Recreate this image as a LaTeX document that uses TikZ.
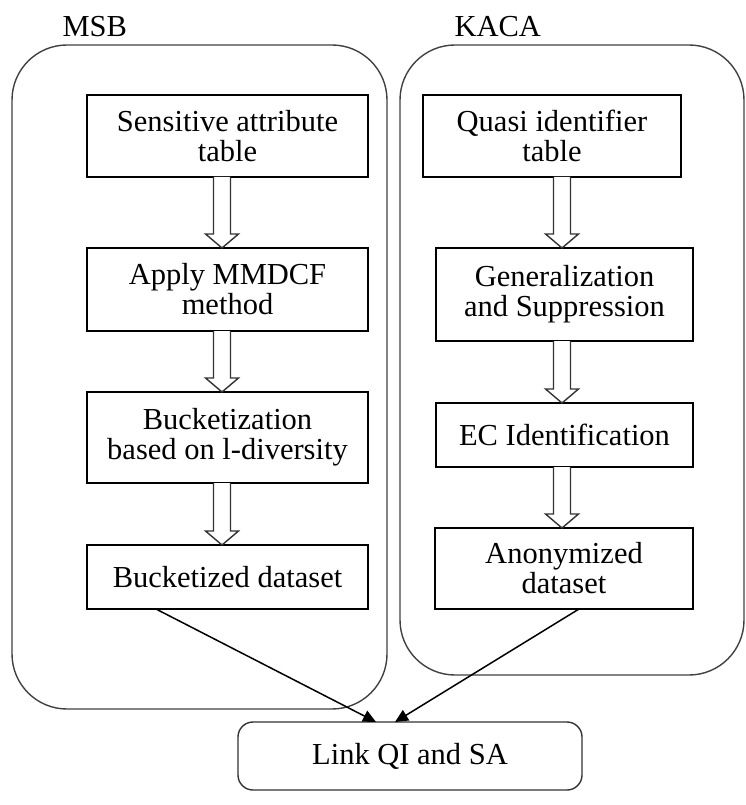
\documentclass[tikz,border=0pt]{standalone}
\usepackage{fontspec}
\setmainfont{Liberation Serif}
\usetikzlibrary{arrows.meta,positioning,calc}

% hollow block arrow: from node, to node, x position
\newcommand{\hollowarr}[3]{%
  \draw[harr] ($(#3,0 |- #1.south)+(-8.5,0)$) -- ($(#3,0 |- #2.north)+(-8.5,-14)$)
    -- ($(#3,0 |- #2.north)+(-16.5,-14)$) -- (#3,0 |- #2.north)
    -- ($(#3,0 |- #2.north)+(16.5,-14)$) -- ($(#3,0 |- #2.north)+(8.5,-14)$)
    -- ($(#3,0 |- #1.south)+(8.5,0)$);}

\begin{document}
\begin{tikzpicture}[x=1pt, y=-1pt,
    every node/.style={font=\fontsize{30.5}{30}\selectfont},
    box/.style={rectangle, draw=black, line width=1.6pt, align=center, outer sep=0pt, inner sep=2pt},
    group/.style={rectangle, rounded corners=55pt, draw=black!75, line width=1.4pt, outer sep=0pt},
    harr/.style={draw=black!80, line width=1.4pt, fill=white, line join=miter},
    arr/.style={-{Triangle[length=13pt, width=12pt]}, line width=1.5pt, black}
  ]
    \useasboundingbox (0,0) rectangle (745,805);

    % containers
    \node[group, minimum width=375pt, minimum height=664pt] (msb)  at (199.5,377) {};
    \node[group, minimum width=344pt, minimum height=630pt] (kaca) at (572,360) {};
    \node[anchor=base west] (msblbl)  at (59,37)  {MSB};
    \node[anchor=base west] (kacalbl) at (451,37) {KACA};

    % MSB side
    \node[box, minimum width=281pt, minimum height=82pt] (sat)   at (227.5,136)   {Sensitive attribute\\table};
    \node[box, minimum width=281pt, minimum height=83pt] (mmdcf) at (227.5,289.5) {Apply MMDCF\\method};
    \node[box, minimum width=281pt, minimum height=91pt] (buck)  at (227.5,437.5) {Bucketization\\based on l-diversity};
    \node[box, minimum width=281pt, minimum height=64pt] (bds)   at (227.5,577)   {Bucketized dataset};

    % KACA side
    \node[box, minimum width=258pt, minimum height=82pt] (qit)  at (552,136)   {Quasi identifier\\table};
    \node[box, minimum width=257pt, minimum height=93pt] (gen)  at (564.5,294.5) {Generalization\\and Suppression};
    \node[box, minimum width=257pt, minimum height=64pt] (eci)  at (564.5,435) {EC Identification};
    \node[box, minimum width=258pt, minimum height=81pt] (anon) at (564,568.5) {Anonymized\\dataset};

    \node[rectangle, rounded corners=15pt, draw=black!80, line width=1.4pt, minimum width=344pt,
      minimum height=68pt, outer sep=0pt] (link) at (410,756) {Link QI and SA};

    \hollowarr{sat}{mmdcf}{222}
    \hollowarr{mmdcf}{buck}{222}
    \hollowarr{buck}{bds}{222}
    \hollowarr{qit}{gen}{562}
    \hollowarr{gen}{eci}{562}
    \hollowarr{eci}{anon}{562}

    \draw[arr] ($(bds.south west)+(69,0)$)   -- ($(link.north)+(-34,0)$);
    \draw[arr] ($(anon.south west)+(144,0)$) -- ($(link.north)+(-15,0)$);
  \end{tikzpicture}
\end{document}
